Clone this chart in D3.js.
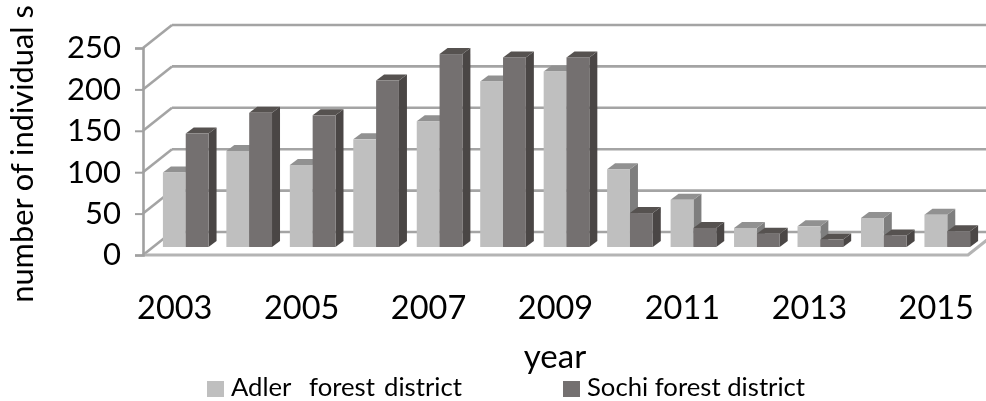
<!DOCTYPE html>
<html>
<head>
<meta charset="utf-8">
<script src="https://cdn.jsdelivr.net/npm/d3@7"></script>
<style>
  html, body { margin: 0; padding: 0; background: #fff; overflow: hidden; }
  svg { display: block; font-family: Lato, sans-serif; fill: #000; filter: blur(0.45px); }
</style>
</head>
<body>
<div id="chart"></div>
<script>
const years = d3.range(2003, 2016).map(String);
const labelYears = ["2003", "2005", "2007", "2009", "2011", "2013", "2015"];
const adler = [90, 116, 99, 130, 152, 200, 212, 94, 57, 23, 25, 35, 39];
const sochi = [137, 162, 159, 201, 233, 229, 229, 41, 23, 16, 9, 14, 19];
const seriesNames = ["Adler  forest district", "Sochi forest district"];
const yTicks = [0, 50, 100, 150, 200, 250];

const sirina = 986, visina = 401;
const wall = { dx: 29, dy: 23 };
const barShift = { dx: 11, dy: 8 };
const barDepth = { dx: 8, dy: 6 };

const boje = [
  { front: "#bfbfbf", top: "#919191", side: "#7e7e7e" },
  { front: "#747070", top: "#565250", side: "#4a4645" },
];

const svg = d3.select("#chart").append("svg")
  .attr("width", sirina)
  .attr("height", visina);

const x = d3.scaleBand().domain(years).range([143, 968]);
const x1 = d3.scaleBand().domain([0, 1]).range([0, x.bandwidth()]).paddingInner(0).paddingOuter(0.39);
const y = d3.scaleLinear().domain([0, 250]).range([255, 48]);

// back wall and side wall
const gridG = svg.append("g")
  .attr("fill", "none")
  .attr("stroke", "#a4a4a4")
  .attr("stroke-width", 2.6);

gridG.selectAll(".back").data(yTicks).enter().append("line")
  .attr("class", "back")
  .attr("x1", x.range()[0] + wall.dx)
  .attr("x2", sirina)
  .attr("y1", d => y(d) - wall.dy)
  .attr("y2", d => y(d) - wall.dy);

gridG.selectAll(".diag").data(yTicks).enter().append("line")
  .attr("class", "diag")
  .attr("x1", x.range()[0])
  .attr("x2", x.range()[0] + wall.dx)
  .attr("y1", d => y(d))
  .attr("y2", d => y(d) - wall.dy);

// floor front edge
gridG.append("path")
  .attr("stroke", "#b4b4b4")
  .attr("stroke-width", 3.2)
  .attr("d", d3.line()([
    [x.range()[0], y(0)],
    [x.range()[1], y(0)],
    [x.range()[1] + wall.dx, y(0) - wall.dy],
  ]));

// y axis
const yAxis = svg.append("g")
  .attr("transform", `translate(${x.range()[0]},0)`)
  .call(d3.axisLeft(y).tickValues(yTicks).tickSize(8).tickPadding(14).tickFormat(d3.format("d")));
yAxis.select(".domain").attr("stroke", "#a0a0a0").attr("stroke-width", 2.6);
yAxis.selectAll(".tick line").attr("stroke", "#a0a0a0").attr("stroke-width", 2);
yAxis.selectAll("text").attr("fill", "#000")
  .style("font-family", "Lato, sans-serif").style("font-size", "31px");

// x axis labels
const xAxis = svg.append("g")
  .attr("transform", `translate(0,${y(0)})`)
  .call(d3.axisBottom(x).tickValues(labelYears).tickSize(0).tickPadding(41));
xAxis.select(".domain").remove();
xAxis.selectAll("text").attr("fill", "#000")
  .style("font-family", "Lato, sans-serif").style("font-size", "32.5px");

// 3d bars, back to front per category
const kvadar = (xx, yy, s, d) => {
  const g = svg.append("g");
  const w = x1.bandwidth();
  const h = y(0) - y(d);
  const top = yy - barShift.dy;
  g.append("path").attr("fill", boje[s].side)
    .attr("d", d3.line()([[xx + w, top], [xx + w + barDepth.dx, top - barDepth.dy],
      [xx + w + barDepth.dx, top + h - barDepth.dy], [xx + w, top + h]]));
  g.append("path").attr("fill", boje[s].top)
    .attr("d", d3.line()([[xx, top], [xx + barDepth.dx, top - barDepth.dy],
      [xx + w + barDepth.dx, top - barDepth.dy], [xx + w, top]]));
  g.append("rect").attr("fill", boje[s].front)
    .attr("x", xx).attr("y", top).attr("width", w).attr("height", h);
};

years.forEach((godina, i) => {
  [adler[i], sochi[i]].forEach((v, s) => {
    kvadar(x(godina) + x1(s) + barShift.dx, y(v), s, v);
  });
});

// axis titles
svg.append("text")
  .attr("transform", "translate(33,154) rotate(-90)")
  .attr("text-anchor", "middle")
  .style("font-size", "30.8px")
  .text("number of individual s");

svg.append("text")
  .attr("x", 555)
  .attr("y", 368)
  .attr("text-anchor", "middle")
  .style("font-size", "33px")
  .text("year");

// legend
const legendX = [207, 563];
const legend = svg.selectAll(".leg").data(seriesNames).enter().append("g")
  .attr("class", "leg")
  .attr("transform", (d, i) => `translate(${legendX[i]},381)`);
legend.append("rect")
  .attr("width", 17).attr("height", 16)
  .attr("fill", (d, i) => boje[i].front);
legend.append("text")
  .attr("x", 24).attr("y", 14.5)
  .style("font-size", "25.7px")
  .style("white-space", "pre")
  .style("word-spacing", (d, i) => i === 0 ? "2.5px" : "0px")
  .text(d => d);
</script>
</body>
</html>
